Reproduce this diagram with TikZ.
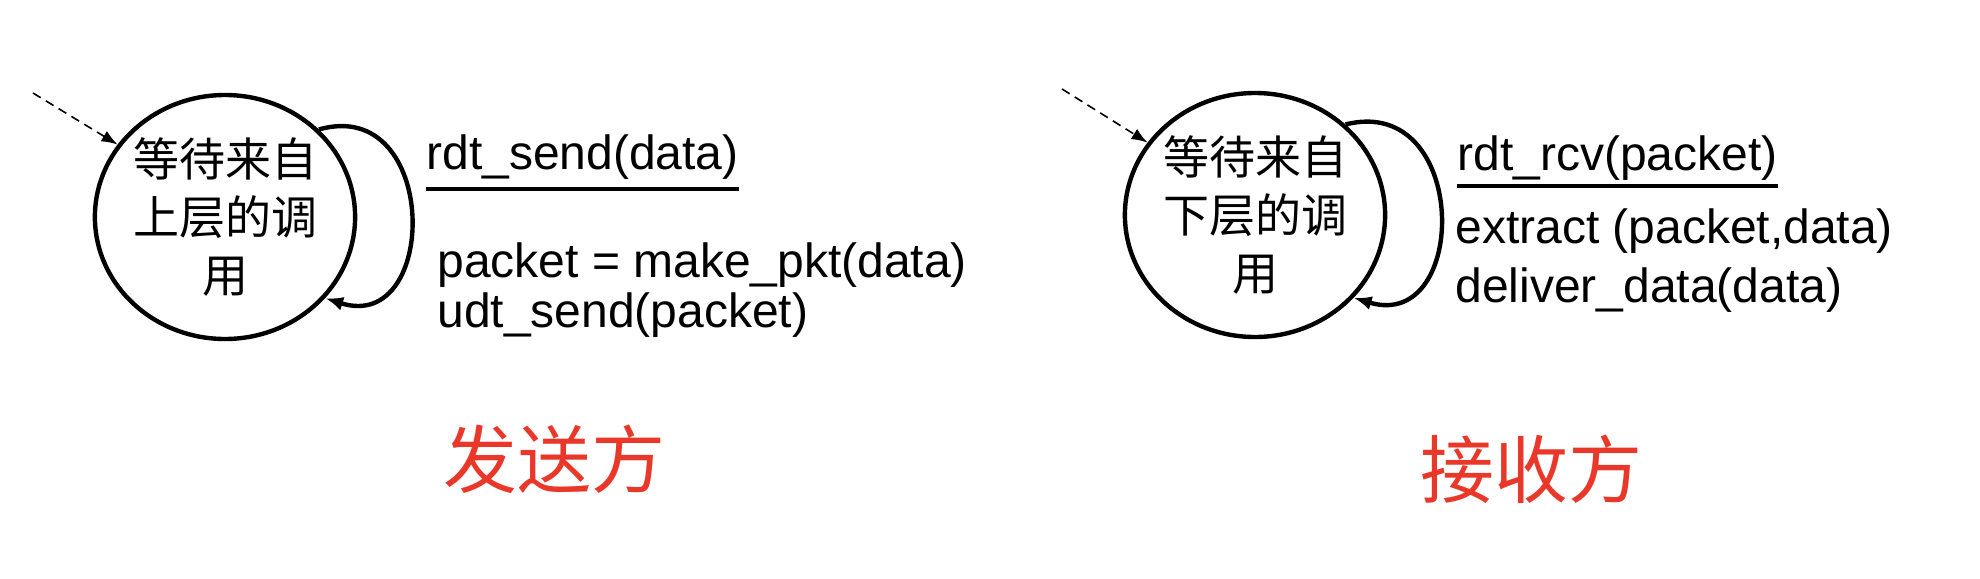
\documentclass[tikz,border=0pt]{standalone}
\usepackage{fontspec}
\setmainfont{Liberation Sans}
\newfontfamily\cjk{Noto Sans CJK SC}
\usetikzlibrary{shapes.geometric,arrows.meta}
\definecolor{lblred}{RGB}{233,56,42}
\begin{document}
\begin{tikzpicture}[x=0.5pt,y=-0.5pt,
  state/.style={draw, line width=2.2pt, ellipse, minimum width=116pt, minimum height=122pt,
    inner sep=0pt, font=\cjk\fontsize{23}{29}\selectfont, align=center},
  selfloop/.style={line width=2.2pt, -{Latex[length=9pt,width=7pt]}},
  init/.style={line width=0.8pt, dash pattern=on 4.5pt off 3pt, -{Latex[length=8pt,width=6pt]}},
  lbl/.style={anchor=base west, inner sep=0pt, font=\fontsize{24}{28}\selectfont},
  side/.style={anchor=base, inner sep=0pt, text=lblred, font=\cjk\fontsize{37}{40}\selectfont},
  ul/.style={line width=2pt}]
\useasboundingbox (0,0) rectangle (1980,578);
% sender
\node[state] (L) at (225,217) {等待来自\\上层的调\\用};
\coordinate (Lin) at (33,93);
\draw[init] (Lin) -- (L.146);
\draw[selfloop] (L.43) .. controls (440,95) and (440,335) .. (L.-39);
\node[lbl] (Lev) at (426,169) {rdt\_send(data)};
\draw[ul] ([yshift=-10pt]Lev.base west) -- ([yshift=-10pt]Lev.base east);
\node[lbl] (La1) at (437,277) {packet = make\_pkt(data)};
\node[lbl] (La2) at (437,327) {udt\_send(packet)};
\node[side] (Ls) at (554,487) {发送方};
% receiver
\node[state] (R) at (1255,215) {等待来自\\下层的调\\用};
\coordinate (Rin) at (1062,89);
\draw[init] (Rin) -- (R.146);
\draw[selfloop] (R.45) .. controls (1470,93) and (1470,333) .. (R.-40);
\node[lbl] (Rev) at (1457,170) {rdt\_rcv(packet)};
\draw[ul] ([yshift=-8pt]Rev.base west) -- ([yshift=-8pt]Rev.base east);
\node[lbl] (Ra1) at (1455,243) {extract (packet,data)};
\node[lbl] (Ra2) at (1455,302) {deliver\_data(data)};
\node[side] (Rs) at (1531,497) {接收方};
\end{tikzpicture}
\end{document}
